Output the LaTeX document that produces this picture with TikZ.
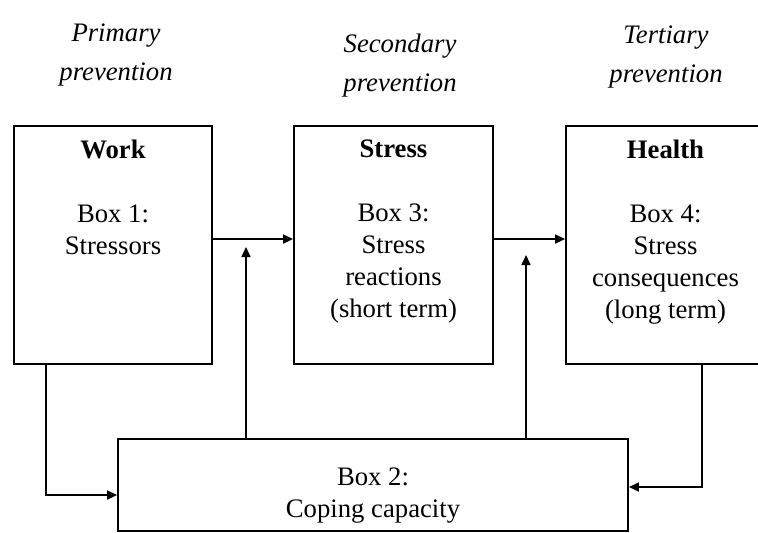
\documentclass[tikz,border=0pt]{standalone}
\usepackage{fontspec}
\setmainfont{Liberation Serif}
\usetikzlibrary{arrows.meta}

\tikzset{
  box/.style={draw, line width=0.9pt, minimum width=99pt, minimum height=119pt, inner sep=0pt},
  boxtext/.style={align=center, inner sep=0pt, font=\fontsize{13.35}{16}\selectfont},
  phase/.style={align=center, inner sep=0pt, font=\fontsize{13.35}{19.5}\selectfont\itshape},
  link/.style={line width=0.8pt, -{Triangle[length=5pt, width=4.5pt]}},
}

\begin{document}
\begin{tikzpicture}[x=0.5pt, y=-0.5pt]
    \useasboundingbox (0,0) rectangle (758,532);
    \clip (0,0) rectangle (758,532);

    % prevention levels
    \node[phase, anchor=north] (primary) at (116,23) {Primary\\prevention};
    \node[phase, anchor=north] (secondary) at (400,34) {Secondary\\prevention};
    \node[phase, anchor=north] (tertiary) at (666,25) {Tertiary\\prevention};

    % main boxes
    \node[box] (work) at (113,245) {};
    \node[box, minimum width=99.5pt] (stress) at (393.5,245) {};
    \node[box, minimum width=99.5pt] (health) at (665.5,245) {};
    \node[box, minimum width=255pt, minimum height=46pt] (coping) at (373,485) {};

    \node[boxtext, anchor=north] (worktxt) at ([yshift=-7pt]work.north)
        {\textbf{Work}\\[16pt]Box 1:\\Stressors};
    \node[boxtext, anchor=north] (stresstxt) at ([yshift=-7pt]stress.north)
        {\textbf{Stress}\\[16pt]Box 3:\\Stress\\reactions\\(short term)};
    \node[boxtext, anchor=north] (healthtxt) at ([yshift=-7pt]health.north)
        {\textbf{Health}\\[16pt]Box 4:\\Stress\\consequences\\(long term)};
    \node[boxtext, anchor=north] (copingtxt) at ([yshift=-14.5pt]coping.north)
        {Box 2:\\Coping capacity};

    % connectors
    \coordinate (up1) at (246,247);
    \coordinate (up2) at (526,255);
    \draw[link] ([yshift=3pt]work.east) -- ([yshift=3pt]stress.west);
    \draw[link] ([yshift=3pt]stress.east) -- ([yshift=3pt]health.west);
    \draw[link] (coping.north -| up1) -- (up1);
    \draw[link] (coping.north -| up2) -- (up2);
    \draw[link] ([xshift=-33.5pt]work.south) |- ([yshift=-5pt]coping.west);
    \draw[link] ([xshift=18.25pt]health.south) |- ([yshift=-1pt]coping.east);
\end{tikzpicture}
\end{document}
